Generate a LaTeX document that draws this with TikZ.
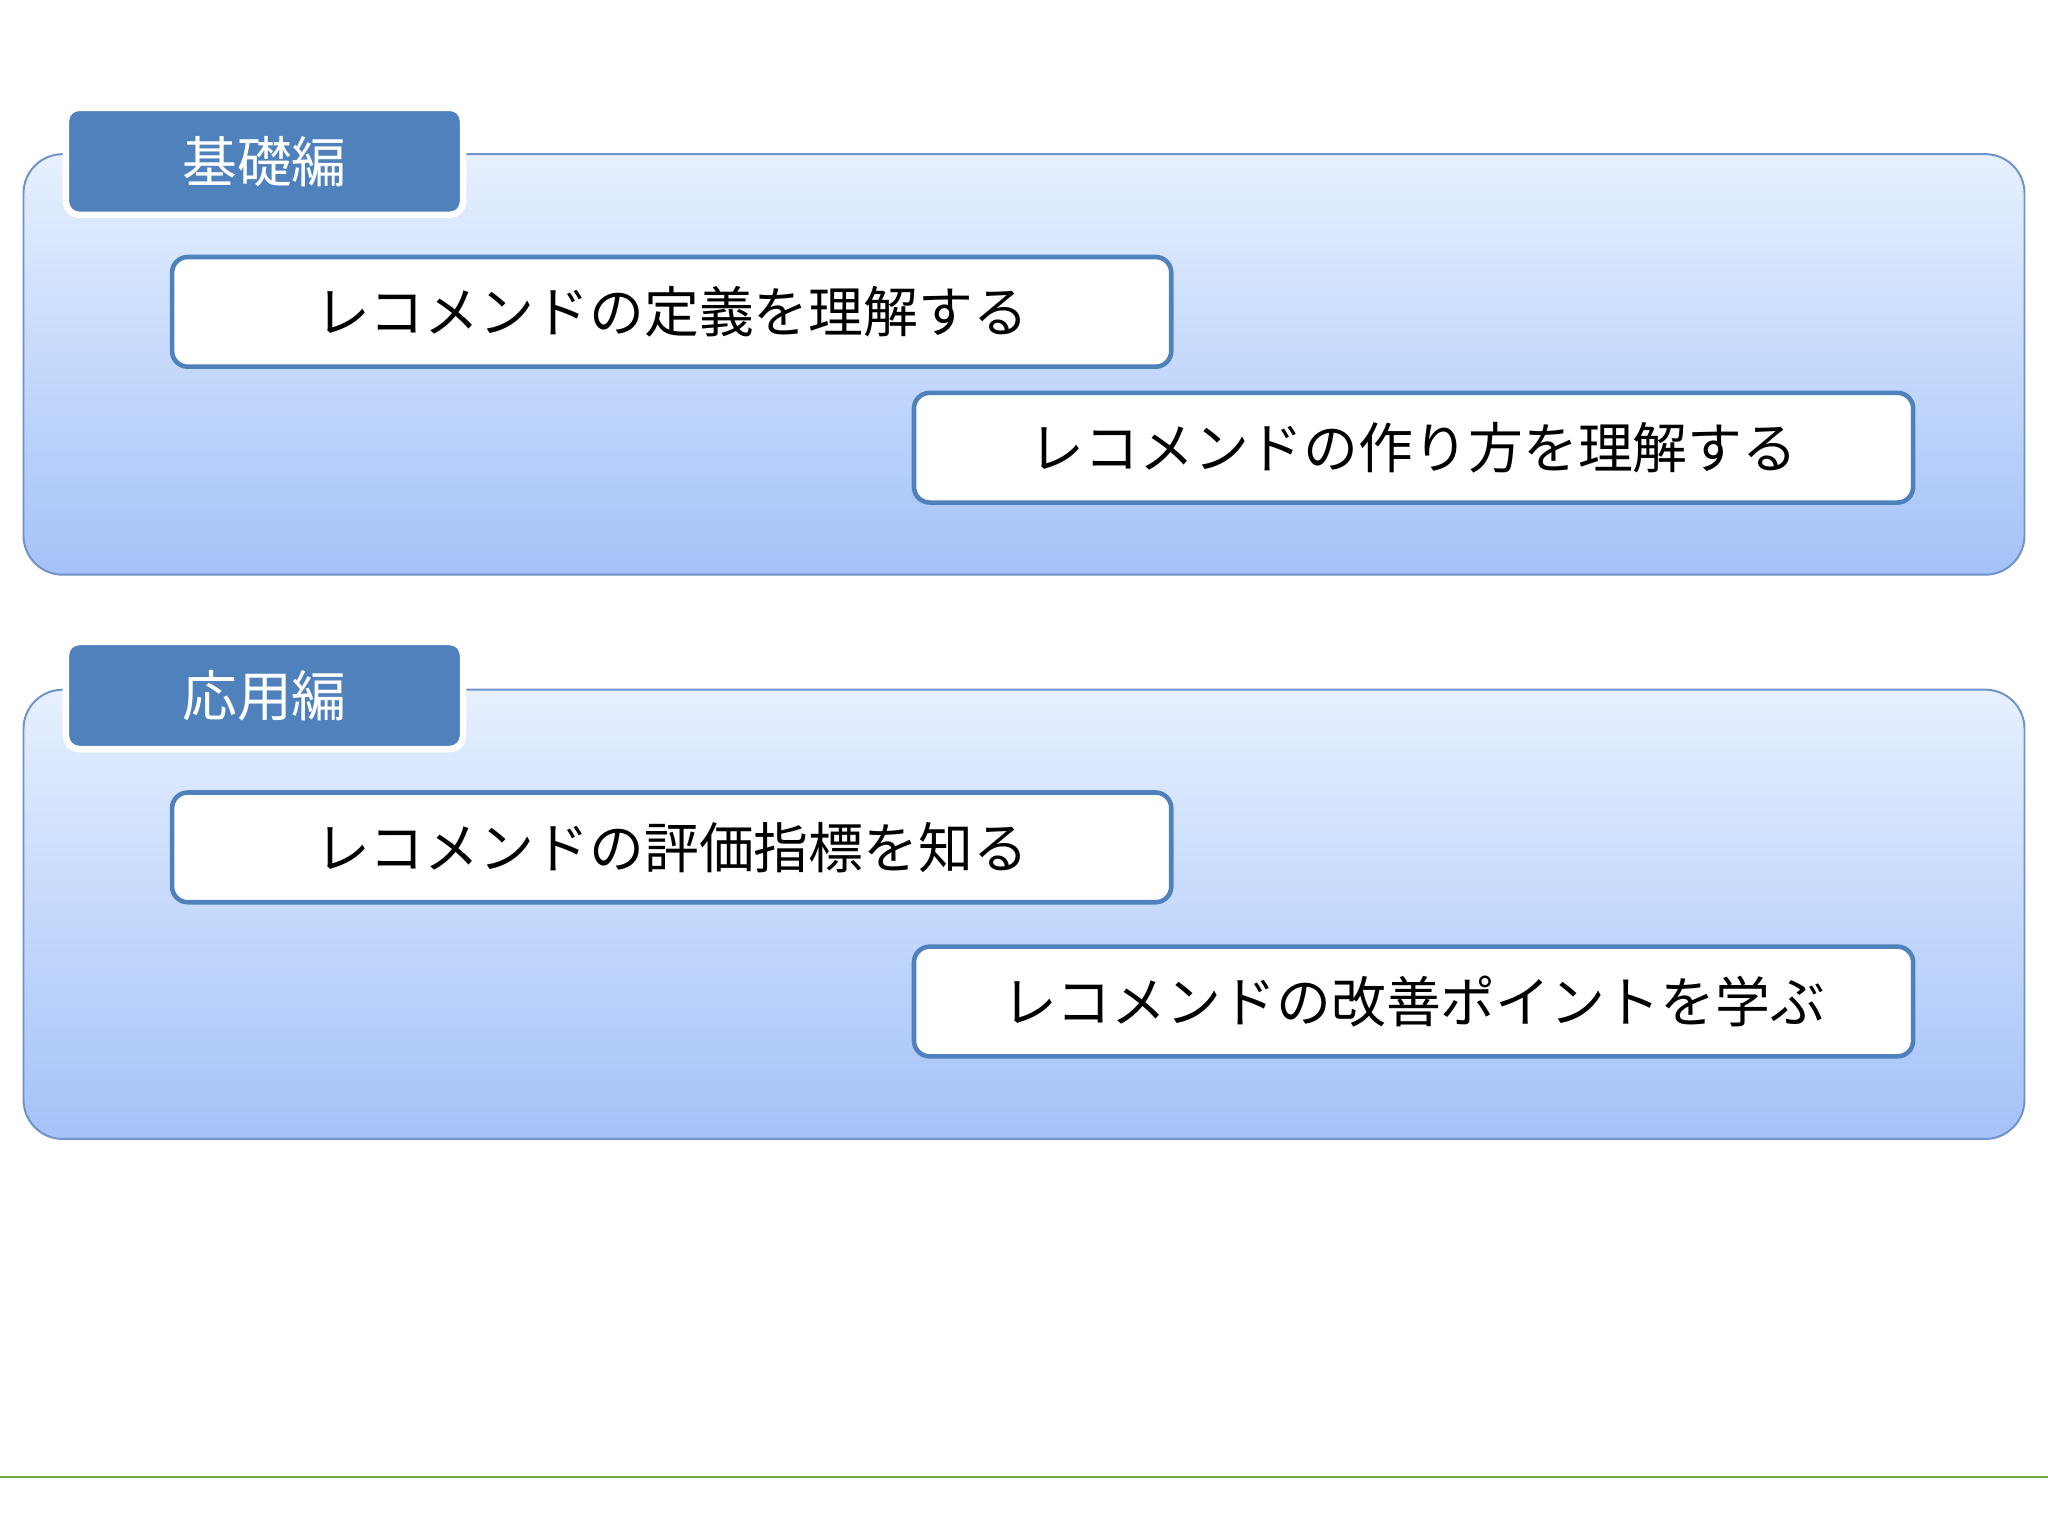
\documentclass[tikz,border=0pt]{standalone}
\usepackage{fontspec}
\newfontfamily\cjk{Noto Sans CJK JP}
\definecolor{tabblue}{HTML}{4F81BD}
\definecolor{ptop}{HTML}{E6F0FF}
\definecolor{pbot}{HTML}{A4C2F8}
\definecolor{pborder}{HTML}{6F93C8}
\definecolor{gline}{HTML}{70AD47}
\tikzset{
 panel/.style={draw=pborder,line width=1.5pt,rounded corners=30pt,top color=ptop,bottom color=pbot},
 tab/.style={draw=white,line width=5pt,fill=tabblue,rounded corners=10pt,minimum width=304pt,minimum height=82pt,font=\cjk\fontsize{42}{46}\selectfont,text=white,anchor=north west,inner sep=0pt},
 item/.style={draw=tabblue,line width=3.5pt,fill=white,rounded corners=12pt,minimum width=765pt,minimum height=84pt,font=\cjk\fontsize{42}{46}\selectfont,anchor=north west,inner sep=0pt}
}
\begin{document}
\begin{tikzpicture}[x=1pt,y=-1pt]
\useasboundingbox[fill=white] (0,0) rectangle (1568,1176);
\path[panel] (18,118) rectangle (1550,440);
\node[tab] (t1) at (48,80) {基礎編};
\node[item] (b1) at (130,195) {レコメンドの定義を理解する};
\node[item] (b2) at (698,299) {レコメンドの作り方を理解する};
\path[panel] (18,528) rectangle (1550,872);
\node[tab] (t2) at (48,489) {応用編};
\node[item] (b3) at (130,605) {レコメンドの評価指標を知る};
\node[item] (b4) at (698,723) {レコメンドの改善ポイントを学ぶ};
\draw[gline,line width=1.2pt] (0,1131) -- (1568,1131);
\end{tikzpicture}
\end{document}
